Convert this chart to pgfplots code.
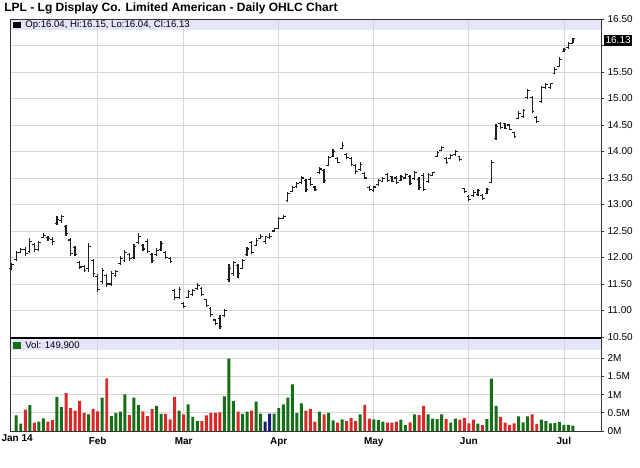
\documentclass[border=0pt]{standalone}
\usepackage{fontspec}
\setmainfont{Liberation Sans}
\usepackage{pgfplots}
\pgfplotsset{compat=1.18}
\usepackage{pgfplotstable}

\definecolor{vgreen}{RGB}{22,110,22}
\definecolor{vred}{RGB}{218,40,40}
\definecolor{vblue}{RGB}{20,30,120}
\definecolor{band}{RGB}{228,228,250}
\definecolor{gridc}{RGB}{215,215,215}
\definecolor{barc}{RGB}{30,30,30}

\pgfdeclareplotmark{otick}{\pgfpathmoveto{\pgfqpoint{-1.7pt}{0pt}}\pgfpathlineto{\pgfqpoint{0pt}{0pt}}\pgfusepathqstroke}
\pgfdeclareplotmark{ctick}{\pgfpathmoveto{\pgfqpoint{0pt}{0pt}}\pgfpathlineto{\pgfqpoint{1.7pt}{0pt}}\pgfusepathqstroke}

\newcommand{\tl}{\fontsize{7.5}{9}\selectfont}

\pgfplotstableread{
i O H L C
0 11.80 11.89 11.76 11.86
1 11.96 12.12 11.94 12.10
2 12.10 12.17 12.08 12.15
3 12.15 12.19 12.03 12.08
4 12.12 12.36 12.09 12.30
5 12.25 12.28 12.11 12.15
6 12.15 12.31 12.12 12.28
7 12.38 12.46 12.36 12.42
8 12.38 12.41 12.31 12.35
9 12.34 12.38 12.24 12.30
10 12.64 12.78 12.61 12.72
11 12.70 12.81 12.66 12.78
12 12.58 12.61 12.41 12.45
13 12.33 12.36 12.03 12.08
14 12.18 12.22 12.03 12.06
15 11.90 11.94 11.78 11.82
16 11.83 11.86 11.72 11.75
17 11.80 12.27 11.72 12.20
18 11.95 11.97 11.64 11.70
19 11.65 11.69 11.34 11.40
20 11.55 11.80 11.50 11.75
21 11.66 11.69 11.44 11.50
22 11.50 11.75 11.47 11.70
23 11.66 11.77 11.64 11.74
24 11.88 12.03 11.86 11.98
25 11.95 12.14 11.91 12.10
26 12.05 12.09 11.94 11.98
27 12.00 12.25 11.97 12.20
28 12.28 12.47 12.25 12.40
29 12.22 12.25 12.13 12.16
30 12.30 12.34 12.08 12.12
31 12.05 12.09 11.89 11.95
32 12.05 12.17 12.03 12.14
33 12.15 12.31 12.13 12.27
34 12.10 12.13 11.97 12.00
35 11.98 12.00 11.89 11.92
36 11.38 11.41 11.19 11.25
37 11.25 11.44 11.22 11.40
38 11.14 11.16 11.05 11.08
39 11.25 11.38 11.23 11.35
40 11.30 11.41 11.27 11.38
41 11.41 11.52 11.39 11.48
42 11.42 11.44 11.27 11.30
43 11.20 11.22 11.06 11.10
44 11.03 11.06 10.87 10.92
45 10.82 10.84 10.72 10.76
46 10.85 10.91 10.66 10.70
47 10.90 11.03 10.87 11.00
48 11.58 11.88 11.54 11.80
49 11.70 11.94 11.66 11.90
50 11.85 11.88 11.61 11.70
51 11.80 11.97 11.79 11.94
52 12.05 12.19 12.03 12.16
53 12.28 12.31 12.06 12.10
54 12.22 12.36 12.21 12.32
55 12.35 12.44 12.34 12.40
56 12.30 12.41 12.25 12.40
57 12.38 12.47 12.34 12.40
58 12.50 12.56 12.48 12.54
59 12.55 12.77 12.53 12.74
60 12.74 12.80 12.72 12.78
61 13.08 13.23 13.05 13.20
62 13.25 13.35 13.23 13.32
63 13.34 13.43 13.32 13.40
64 13.42 13.54 13.39 13.50
65 13.45 13.49 13.23 13.28
66 13.48 13.51 13.34 13.38
67 13.33 13.35 13.26 13.28
68 13.60 13.70 13.58 13.67
69 13.64 13.67 13.41 13.45
70 13.74 13.92 13.72 13.88
71 13.91 14.04 13.89 14.00
72 13.87 13.89 13.78 13.80
73 14.06 14.18 14.04 14.12
74 13.95 13.97 13.85 13.88
75 13.87 13.89 13.73 13.76
76 13.74 13.77 13.58 13.62
77 13.66 13.80 13.64 13.76
78 13.59 13.61 13.48 13.50
79 13.32 13.34 13.25 13.28
80 13.26 13.35 13.24 13.33
81 13.37 13.49 13.35 13.46
82 13.44 13.51 13.42 13.49
83 13.56 13.59 13.43 13.46
84 13.52 13.54 13.42 13.44
85 13.50 13.54 13.39 13.42
86 13.46 13.55 13.45 13.52
87 13.50 13.59 13.48 13.56
88 13.52 13.56 13.37 13.40
89 13.49 13.64 13.47 13.60
90 13.48 13.51 13.28 13.32
91 13.55 13.60 13.25 13.28
92 13.43 13.60 13.41 13.56
93 13.55 13.61 13.54 13.60
94 13.90 14.01 13.89 13.98
95 14.02 14.10 14.00 14.07
96 13.87 13.89 13.76 13.79
97 13.86 13.95 13.85 13.92
98 13.94 14.03 13.92 14.00
99 13.90 13.92 13.82 13.85
100 13.30 13.32 13.21 13.24
101 13.15 13.17 13.06 13.09
102 13.17 13.28 13.15 13.22
103 13.18 13.30 13.16 13.27
104 13.17 13.19 13.08 13.11
105 13.21 13.32 13.19 13.29
106 13.42 13.84 13.40 13.80
107 14.25 14.52 14.22 14.48
108 14.53 14.55 14.42 14.45
109 14.52 14.54 14.42 14.44
110 14.50 14.52 14.40 14.42
111 14.35 14.37 14.25 14.28
112 14.63 14.77 14.61 14.72
113 14.66 14.80 14.64 14.77
114 15.01 15.18 14.99 15.15
115 15.02 15.05 14.73 14.76
116 14.65 14.67 14.54 14.57
117 14.95 15.24 14.92 15.20
118 15.20 15.30 15.18 15.27
119 15.20 15.30 15.18 15.28
120 15.48 15.59 15.46 15.55
121 15.61 15.78 15.59 15.74
122 15.88 15.96 15.87 15.93
123 15.96 16.06 15.94 16.03
124 16.04 16.15 16.04 16.13
}\ohlc

\pgfplotsset{panel/.style={
  scale only axis, width=443.6pt,
  xmin=-0.376, xmax=130.3,
  axis line style={black!80, line width=0.7pt},
  grid style={gridc, line width=0.6pt},
  xmajorgrids, ymajorgrids,
  tick align=outside, major tick length=2.25pt,
  ytick pos=right, yticklabel pos=right,
  ytick style={black!80, line width=0.6pt},
  xtick style={draw=none},
  yticklabel style={font=\tl, inner sep=0pt, xshift=2.2pt},
}}

\begin{document}
\begin{tikzpicture}
% header bands
\fill[band] (7.5pt,336.75pt) rectangle (451.1pt,328.5pt);
\fill[band] (7.5pt,96.75pt) rectangle (451.1pt,88.5pt);

\begin{axis}[panel,
  at={(7.5pt,336.75pt)}, anchor=north west, height=238.5pt,
  ymin=10.5, ymax=16.5,
  ytick={10.5,11,11.5,12,12.5,13,13.5,14,14.5,15,15.5,16,16.5},
  yticklabels={10.50,11.00,11.50,12.00,12.50,13.00,13.50,14.00,14.50,15.00,15.50,,16.50},
  xtick={19,38,59,80,101,122}, xticklabels={},
]
\addplot[quiver={u=0,v=\thisrow{H}-\thisrow{L}}, draw=barc, line width=0.9pt, -] table[x=i,y=L]{\ohlc};
\addplot[only marks, mark=otick, mark options={draw=barc, line width=0.8pt}] table[x=i,y=O]{\ohlc};
\addplot[only marks, mark=ctick, mark options={draw=barc, line width=0.8pt}] table[x=i,y=C]{\ohlc};
\end{axis}

\begin{axis}[panel,
  at={(7.5pt,97.5pt)}, anchor=north west, height=69.75pt,
  ymin=0, ymax=2.56,
  ytick={0,0.5,1,1.5,2},
  yticklabels={0M,0.5M,1M,1.5M,2M},
  xtick={-0.376,19,38,59,80,101,122},
  xticklabels={,Feb,Mar,Apr,May,Jun,Jul},
  xticklabel style={font=\tl\bfseries, inner sep=1pt, yshift=-1.2pt},
]
\addplot[ybar, bar width=0.66, bar shift=0pt, fill=vgreen, draw=none] coordinates {
(1,0.43)(2,0.20)(4,0.71)(6,0.26)(7,0.35)(10,0.94)(11,0.66)(17,0.46)(20,0.92)(22,0.41)
(23,0.49)(24,0.53)(25,1.01)(27,0.92)(28,0.71)(32,0.69)(33,0.47)(37,0.56)(39,0.73)(40,0.39)
(41,0.28)(47,0.95)(48,1.99)(49,0.83)(51,0.47)(52,0.53)(54,0.81)(55,0.48)(58,0.48)(59,0.63)
(60,0.73)(61,0.92)(62,1.28)(63,0.49)(64,0.76)(68,0.53)(70,0.50)(71,0.29)(73,0.32)(77,0.46)
(80,0.32)(81,0.30)(82,0.26)(86,0.31)(87,0.16)(89,0.46)(92,0.46)(93,0.34)(94,0.33)(95,0.46)
(97,0.23)(98,0.34)(103,0.20)(105,0.33)(106,1.44)(107,0.69)(112,0.40)(113,0.24)(114,0.40)(117,0.31)
(118,0.27)(119,0.21)(120,0.22)(121,0.25)(122,0.17)(123,0.17)(124,0.15)};
\addplot[ybar, bar width=0.66, bar shift=0pt, fill=vred, draw=none] coordinates {
(3,0.59)(5,0.23)(8,0.26)(9,0.30)(12,1.04)(13,0.63)(14,0.56)(15,0.83)(16,0.49)(18,0.61)
(19,0.54)(21,1.45)(26,0.44)(29,0.54)(30,0.41)(31,0.60)(34,0.47)(35,0.32)(36,0.94)(38,0.46)
(42,0.27)(43,0.43)(44,0.50)(45,0.50)(46,0.51)(50,0.53)(53,0.56)(65,0.56)(66,0.61)(67,0.26)
(69,0.46)(72,0.23)(74,0.27)(75,0.36)(76,0.27)(78,0.72)(79,0.34)(83,0.23)(84,0.23)(85,0.26)
(88,0.24)(90,0.44)(91,0.69)(96,0.33)(99,0.31)(100,0.36)(101,0.21)(102,0.31)(104,0.16)(108,0.39)
(109,0.23)(110,0.17)(111,0.21)(115,0.46)(116,0.19)};
\addplot[ybar, bar width=0.66, bar shift=0pt, fill=vblue, draw=none] coordinates {(56,0.26)(57,0.48)};
\end{axis}

% thick separator
\draw[black, line width=1.5pt] (7.5pt,97.6pt) -- (451.1pt,97.6pt);

% first month label, kept inside the picture
\node[anchor=north west, inner sep=1pt, font=\tl\bfseries] at (0pt,26.55pt) {Jan 14};

% title and headers
\node[anchor=base west, inner sep=0pt, font=\fontsize{9}{11}\selectfont\bfseries] at (3.1pt,342pt) {LPL - Lg Display Co. Limited American - Daily OHLC Chart};
\fill[black] (10pt,329.8pt) rectangle (15.4pt,334.7pt);
\node[anchor=west, inner sep=0pt, font=\fontsize{7.2}{9}\selectfont] at (18.8pt,332.3pt) {Op:16.04, Hi:16.15, Lo:16.04, Cl:16.13};
\fill[vgreen] (10pt,89.6pt) rectangle (15.4pt,94.5pt);
\node[anchor=west, inner sep=0pt, font=\fontsize{7.2}{9}\selectfont] at (18.8pt,92.1pt) {Vol: 149,900};
% last price box
\node[anchor=west, fill=black, text=white, inner xsep=1.1pt, inner ysep=1.6pt, font=\tl] at (452.9pt,320.7pt) {16.13};

\pgfresetboundingbox
\useasboundingbox (0,0) rectangle (480pt,351pt);
\end{tikzpicture}
\end{document}
